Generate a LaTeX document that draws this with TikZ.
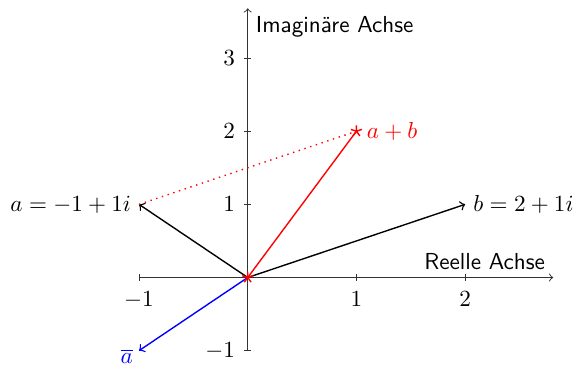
\documentclass[tikz,border=0pt]{standalone}
\usepackage{amsmath}
\usetikzlibrary{plotmarks}
\definecolor{sumred}{RGB}{255,0,0}
\definecolor{conjblue}{RGB}{0,0,255}

\begin{document}
\begin{tikzpicture}[x=1.651cm, y=1.111cm,
    axislabel/.style={font=\sffamily},
    ticklabel/.style={inner sep=3.33pt},
    vec/.style={semithick}]
  \useasboundingbox (-2.279,-1.220) rectangle (3.029,3.794);
  % axes
  \coordinate (xmin) at (-1,0);
  \coordinate (xmax) at (2.81,0);
  \coordinate (ymin) at (0,-1);
  \coordinate (ymax) at (0,3.68);
  \draw[->, black!80] (xmin) -- (xmax);
  \draw[->, black!80] (ymin) -- (ymax);
  \node[axislabel, anchor=south east] (re) at (xmax) {Reelle Achse};
  \node[axislabel, anchor=north west] (im) at (ymax) {Imagin\"are Achse};
  % ticks
  \foreach \x/\n in {-1/m1, 1/p1, 2/p2} {
    \draw[black!80] (\x,0) ++(0,-1.5pt) -- ++(0,3pt);
    \node[ticklabel, anchor=north, yshift=-2.5pt] (xt\n) at (\x,0) {$\x$};
  }
  \foreach \y/\n in {-1/m1, 1/p1, 2/p2, 3/p3} {
    \draw[black!80] (0,\y) ++(-1.5pt,0) -- ++(3pt,0);
    \node[ticklabel, anchor=east, xshift=-2pt] (yt\n) at (0,\y) {$\y$};
  }
  % vectors
  \coordinate (O) at (0,0);
  \coordinate (a) at (-1,1);
  \coordinate (b) at (2,1);
  \coordinate (ab) at (1,2);
  \coordinate (abar) at (-1,-1);
  \draw[vec, ->] (O) -- (a);
  \draw[vec, ->] (O) -- (b);
  \draw[vec, ->, conjblue] (O) -- (abar);
  \draw[sumred, dotted, semithick] (a) -- (ab);
  \draw[vec, sumred] plot[mark=star, mark size=2.5pt] coordinates {(O) (ab)};
  \node[anchor=east] (alabel) at (a) {$a=-1+1i$};
  \node[anchor=west] (blabel) at (b) {$b=2+1i$};
  \node[sumred, anchor=west, xshift=1pt] (ablabel) at (ab) {$a+b$};
  \node[conjblue, anchor=north east, yshift=3.5pt, inner sep=2.5pt] (abarlabel) at (abar) {$\overline{a}$};
\end{tikzpicture}
\end{document}
